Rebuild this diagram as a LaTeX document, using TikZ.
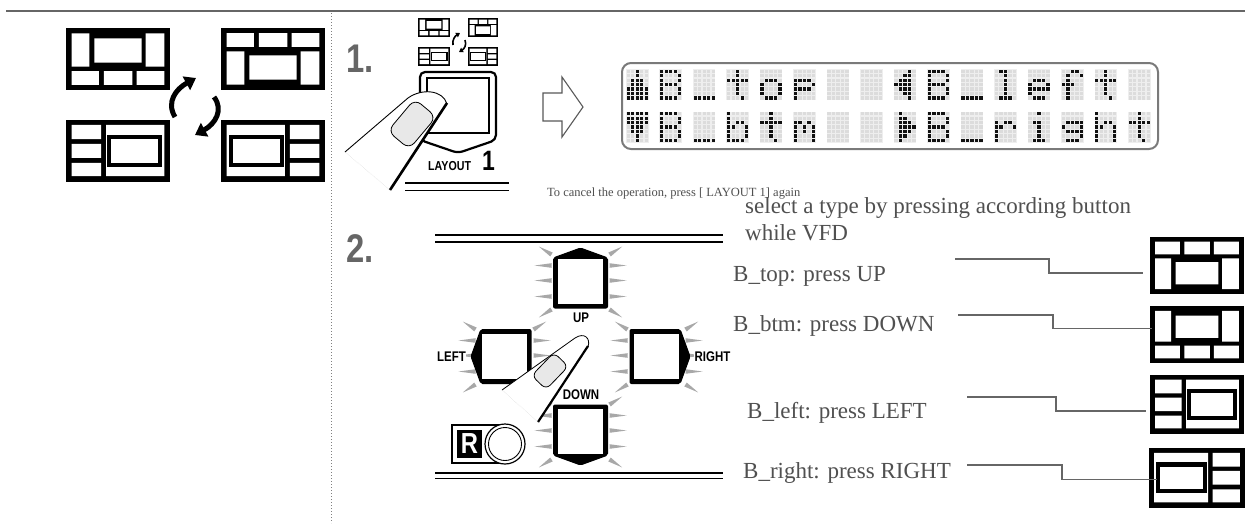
\documentclass[tikz,border=0pt]{standalone}
\usepackage{fontspec}
\setmainfont{Liberation Serif}
\newfontfamily\condfont[FakeStretch=0.82]{Liberation Sans}
\usetikzlibrary{arrows.meta}

\definecolor{rulegray}{HTML}{666666}
\definecolor{txtgray}{HTML}{505050}
\definecolor{raygray}{HTML}{A8A8A8}
\definecolor{vfdframe}{HTML}{7A7A7A}
\definecolor{vfdcell}{HTML}{EEEEEE}
\definecolor{vfdoff}{HTML}{DCDCDC}
\definecolor{vfdon}{HTML}{111111}

%% 5x7 glyphs, one number per row (binary)
\def\vfdup{4,4,14,14,31,31,31}
\def\vfddn{31,31,31,14,14,4,4}
\def\vfdlt{2,6,14,30,14,6,2}
\def\vfdrt{8,12,14,15,14,12,8}
\def\vfdB{30,17,17,30,17,17,30}
\def\vfdus{0,0,0,0,0,0,31}
\def\vfdt{4,4,31,4,4,4,2}
\def\vfdo{0,0,14,17,17,17,14}
\def\vfdp{0,0,30,17,30,16,16}
\def\vfdb{16,16,22,25,17,17,30}
\def\vfdm{0,0,26,21,21,17,17}
\def\vfdl{12,4,4,4,4,4,14}
\def\vfde{0,0,14,17,31,16,14}
\def\vfdf{6,9,8,28,8,8,8}
\def\vfdr{0,0,22,25,16,16,16}
\def\vfdi{4,0,12,4,4,4,14}
\def\vfdg{0,0,15,17,15,1,14}
\def\vfdh{16,16,22,25,17,17,17}
\def\vfdsp{0,0,0,0,0,0,0}

\newcommand\vfdchar[3]{%
  \edef\vfdrows{\csname vfd#3\endcsname}%
  \fill[vfdcell] (#1,#2) rectangle ++(22.5,31.2);
  \foreach \bits [count=\r from 0] in \vfdrows {
    \foreach \c in {0,...,4} {
      \pgfmathtruncatemacro\lit{mod(floor(\bits/(2^(4-\c))),2)}
      \ifnum\lit=1 \def\dotcol{vfdon}\else\def\dotcol{vfdoff}\fi
      \fill[\dotcol] ({#1+\c*4.5+0.6},{#2+\r*4.45+0.6}) rectangle ++(3.3,3.25);
    }
  }
}

\newcommand\ray[4]{\fill[raygray, shift={(#1,#2)}, rotate=#3] (0,-2.3) -- (#4,0) -- (0,2.3) -- cycle;}
\newcommand\padrays[2]{%
  \foreach \dy in {-16,-1,15} {
    \ray{#1-29}{#2+\dy}{180}{17}
    \ray{#1+29}{#2+\dy}{0}{17}
  }
  \ray{#1-29}{#2-27}{148}{15}
  \ray{#1+29}{#2-27}{32}{15}
  \ray{#1-29}{#2+28}{212}{15}
  \ray{#1+29}{#2+28}{328}{15}
}
\newcommand\padbutton[3]{%
  \begin{scope}[shift={(#1,#2)}, rotate=#3]
    \fill[rounded corners=2] (-27.5,27) -- (-27.5,-24) -- (0,-34) -- (27.5,-24) -- (27.5,27) -- cycle;
    \fill[white] (-22.5,-22.5) rectangle (22.5,22.5);
  \end{scope}
}

\tikzset{
  lbl/.style={font=\fontsize{23}{27}\selectfont, text=txtgray, inner sep=0, anchor=base west},
  note/.style={font=\fontsize{12.5}{14}\selectfont, text=txtgray, inner sep=0, anchor=base west},
  link/.style={draw=rulegray, line width=1.6},
  keylbl/.style={font=\condfont\bfseries\fontsize{14}{14}\selectfont, inner sep=0},
  stepnum/.style={font=\condfont\bfseries\fontsize{40}{40}\selectfont, text=rulegray, inner sep=0, anchor=base west},
  bigarrow/.style={line width=5, -{Triangle[length=11pt,width=15pt]}},
  smallarrow/.style={line width=1.6, -{Triangle[length=4pt,width=5pt]}},
  %% layout icons, unit square, y down
  btm icon/.pic={
    \fill (0,0) rectangle (1,1);
    \fill[white] (0.054,0.086) rectangle (0.224,0.624) (0.766,0.086) rectangle (0.946,0.624)
      (0.272,0.167) rectangle (0.728,0.559)
      (0.054,0.694) rectangle (0.317,0.919) (0.365,0.694) rectangle (0.638,0.919) (0.679,0.694) rectangle (0.946,0.919);
  },
  top icon/.pic={
    \fill (0,0) rectangle (1,1);
    \fill[white] (0.054,0.376) rectangle (0.224,0.914) (0.766,0.376) rectangle (0.946,0.914)
      (0.272,0.441) rectangle (0.728,0.833)
      (0.054,0.081) rectangle (0.317,0.306) (0.365,0.081) rectangle (0.638,0.306) (0.679,0.081) rectangle (0.946,0.306);
  },
  left icon/.pic={
    \fill (0,0) rectangle (1,1);
    \fill[white] (0.054,0.08) rectangle (0.337,0.31) (0.054,0.383) rectangle (0.337,0.612) (0.054,0.69) rectangle (0.337,0.904)
      (0.385,0.08) rectangle (0.946,0.904);
    \fill (0.391,0.239) rectangle (0.926,0.755);
    \fill[white] (0.433,0.309) rectangle (0.888,0.691);
  },
  right icon/.pic={
    \fill (0,0) rectangle (1,1);
    \fill[white] (0.663,0.08) rectangle (0.946,0.31) (0.663,0.383) rectangle (0.946,0.612) (0.663,0.69) rectangle (0.946,0.904)
      (0.054,0.08) rectangle (0.615,0.904);
    \fill (0.074,0.239) rectangle (0.609,0.755);
    \fill[white] (0.112,0.309) rectangle (0.567,0.691);
  }
}

\begin{document}
\begin{tikzpicture}[x=1pt,y=-1pt]
  \useasboundingbox[fill=white] (0,0) rectangle (1245,523);

  %% frame lines
  \draw[rulegray, line width=2.2] (6,11) -- (1245,11);
  \draw[gray, line width=1, dash pattern=on 1pt off 2pt] (331,13) -- (331,523);

  %% overview of the four layouts
  \pic[xscale=104,yscale=62] at (66,28) {btm icon};
  \pic[xscale=104,yscale=62] at (221,28) {top icon};
  \pic[xscale=104,yscale=62] at (66,120) {left icon};
  \pic[xscale=104,yscale=62] at (221,120) {right icon};
  \draw[bigarrow] (175,117) .. controls (166,102) and (176,89) .. (196,78);
  \draw[bigarrow] (214,97) .. controls (224,110) and (215,124) .. (195,135);

  %% step 1
  \node[stepnum] (stepone) at (346,72) {1.};
  \pic[xscale=32,yscale=19] at (418,18) {btm icon};
  \pic[xscale=30,yscale=19] at (468,18) {top icon};
  \pic[xscale=32,yscale=19] at (418,47) {left icon};
  \pic[xscale=30,yscale=19] at (468,47) {right icon};
  \draw[smallarrow] (453,45) .. controls (452,40) and (455,36) .. (460,33);
  \draw[smallarrow] (465,40) .. controls (467,45) and (464,49) .. (459,52);

  \draw[line width=2.2, rounded corners=5] (420,140) -- (420,72) -- (496,72) -- (496,140) -- (458,153) -- cycle;
  \draw[line width=1.3] (427,78) rectangle (489,133);
  \node[keylbl, anchor=base west, font=\condfont\bfseries\fontsize{13}{13}\selectfont] (layoutlbl) at (428,170.5) {LAYOUT};
  \node[keylbl, anchor=base west, font=\condfont\bfseries\fontsize{28}{28}\selectfont] (layoutnum) at (482,170.5) {1};
  \draw[line width=1.6] (405,183) -- (509,183);
  \draw[line width=1.6] (405,190.5) -- (509,190.5);

  %% finger on LAYOUT 1
  \fill[white] (345,152) -- (408,98) .. controls (422,88) and (443,90) .. (447,104) -- (390,190) -- cycle;
  \draw[line width=0.9] (345,152) -- (408,98) .. controls (422,88) and (443,90) .. (447,104);
  \draw[line width=2.6] (447,103) -- (390,190);
  \draw[gray!40, densely dotted] (345,152) -- (390,190);
  \draw[line width=0.8, fill=gray!18, rounded corners=8, rotate around={50:(412,124)}] (391,110) rectangle (433,138);

  \draw[draw=gray!70!black, line width=1.1] (543,93) -- (562,93) -- (562,77) -- (583,107) -- (562,137) -- (562,121) -- (543,121) -- cycle;

  %% VFD
  \draw[vfdframe, line width=2, rounded corners=9, fill=white] (622,63) rectangle (1158,149);
  \foreach \g [count=\i from 0] in {up,B,us,t,o,p,sp,sp,lt,B,us,l,e,f,t,sp}
    {\vfdchar{626+33.47*\i}{69}{\g}}
  \foreach \g [count=\i from 0] in {dn,B,us,b,t,m,sp,sp,rt,B,us,r,i,g,h,t}
    {\vfdchar{626+33.47*\i}{111.5}{\g}}

  \node[note] (canceltxt) at (547,196.5) {To cancel the operation, press [ LAYOUT 1] again};

  %% step 2
  \node[stepnum] (steptwo) at (346,262) {2.};
  \draw[line width=2] (435,235) -- (723,235);
  \draw[line width=1.2] (435,242) -- (723,242);
  \draw[line width=2] (435,473) -- (723,473);
  \draw[line width=1.2] (435,478.5) -- (723,478.5);

  \padrays{580.5}{281.5}
  \padrays{504.5}{356.5}
  \padrays{656.5}{356.5}
  \padrays{580.5}{431.5}
  \padbutton{580.5}{281.5}{0}
  \padbutton{504.5}{356.5}{90}
  \padbutton{656.5}{356.5}{-90}
  \padbutton{580.5}{431.5}{180}

  \node[keylbl] (uplbl) at (581,318) {UP};
  \node[keylbl, fill=white, inner sep=0.5] (leftlbl) at (451.5,357) {LEFT};
  \node[keylbl, fill=white, inner sep=0.5] (rightlbl) at (712.5,357) {RIGHT};
  \node[keylbl] (downlbl) at (581,395) {DOWN};

  %% R button
  \draw[line width=1.2, fill=white] (452,425) rectangle (505,463);
  \draw[line width=1.2, fill=white] (505,444) circle (20);
  \draw[line width=0.9] (505,444) circle (16.5);
  \fill (457,430) rectangle (482,458);
  \node[text=white, font=\condfont\bfseries\fontsize{29}{29}\selectfont, inner sep=0] (rlbl) at (469.5,444) {R};

  %% finger on the pad
  \fill[white] (502,390) -- (575,338) .. controls (584,332) and (591,338) .. (588,347) -- (538,422) -- cycle;
  \draw[line width=0.8] (502,390) -- (575,338) .. controls (584,332) and (591,338) .. (588,347);
  \draw[line width=2.2] (588,346) -- (538,422);
  \draw[gray!40, densely dotted] (502,390) -- (538,422);
  \draw[line width=0.8, fill=gray!18, rounded corners=6, rotate around={46:(550,371)}] (534,361) rectangle (566,381);

  %% explanations
  \node[lbl] (selecttxt) at (745,213) {select a type by pressing according button};
  \node[lbl] (whiletxt) at (745,240) {while VFD};
  \node[lbl] (lbltop) at (733,281.7) {B\_top: press UP};
  \node[lbl] (lblbtm) at (733,331.7) {B\_btm: press DOWN};
  \node[lbl] (lblleft) at (747,418.3) {B\_left: press LEFT};
  \node[lbl] (lblright) at (743,478.3) {B\_right: press RIGHT};

  \pic[xscale=94,yscale=57] at (1150,237) {top icon};
  \pic[xscale=94,yscale=57] at (1150,306) {btm icon};
  \pic[xscale=94,yscale=59] at (1150,375) {left icon};
  \pic[xscale=96,yscale=60] at (1149,448) {right icon};

  \coordinate (toptail) at (955,259);
  \coordinate (icontop) at (1143,273);
  \coordinate (btmtail) at (958,315);
  \coordinate (iconbtm) at (1152,328.3);
  \coordinate (lefttail) at (967,397);
  \coordinate (iconleft) at (1146,411);
  \coordinate (righttail) at (967,465);
  \coordinate (iconright) at (1157,479.3);
  \draw[link] (toptail) -- ++(94,0) |- (icontop);
  \draw[link] (btmtail) -- ++(95,0) |- (iconbtm);
  \draw[link] (lefttail) -- ++(89,0) |- (iconleft);
  \draw[link] (righttail) -- ++(95,0) |- (iconright);
\end{tikzpicture}
\end{document}
